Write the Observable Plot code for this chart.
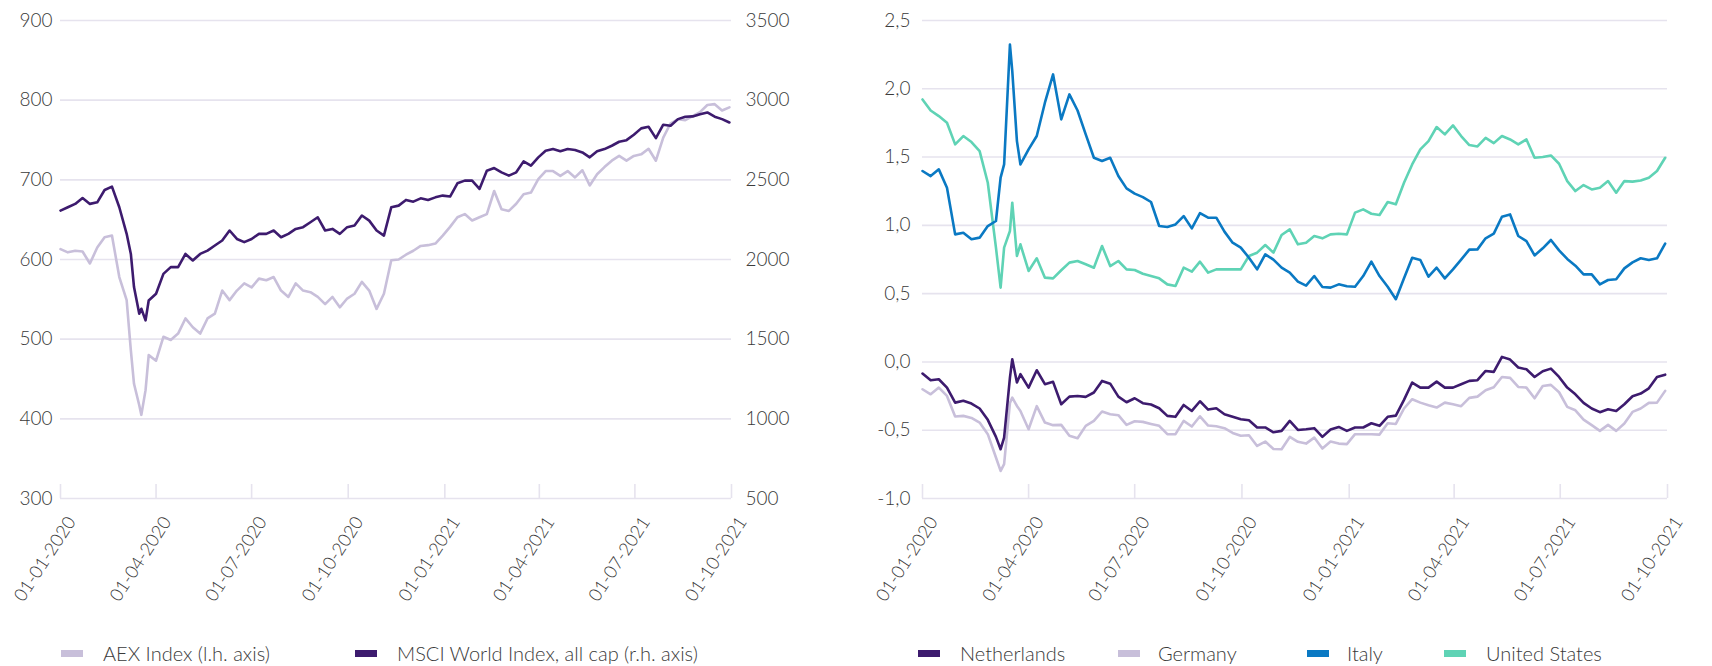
<!DOCTYPE html>
<html>
<head>
<meta charset="utf-8">
<script src="https://cdn.jsdelivr.net/npm/d3@7"></script>
<script src="https://cdn.jsdelivr.net/npm/@observablehq/plot@0.6"></script>
<style>
  html, body { margin: 0; padding: 0; background: #ffffff; }
  #wrap { position: relative; width: 1712px; height: 666px; overflow: hidden; font-family: Lato, "Open Sans", sans-serif; }
  #left { position: absolute; left: 0; top: 0; }
  #right { position: absolute; left: 820px; top: 0; }
  .leg { position: absolute; top: 641px; height: 24px; font-size: 20px; color: #3a3a3a; font-weight: 300; white-space: nowrap; }
  .sw { position: absolute; top: 9px; width: 22px; height: 7px; }
  .lt { position: absolute; top: 0; line-height: 24px; }
</style>
</head>
<body>
<div id="wrap">
  <div id="left"></div>
  <div id="right"></div>
  <div id="legends"></div>
</div>
<script>
// ---------- data ----------
const dates = [
"2020-01-01","2020-01-08","2020-01-15","2020-01-22","2020-01-29","2020-02-05","2020-02-12","2020-02-19","2020-02-26",
"2020-03-04","2020-03-08","2020-03-11","2020-03-16","2020-03-18","2020-03-22","2020-03-25",
"2020-04-01","2020-04-08","2020-04-15","2020-04-22","2020-04-29","2020-05-06","2020-05-13","2020-05-20","2020-05-27",
"2020-06-03","2020-06-10","2020-06-17","2020-06-24","2020-07-01","2020-07-08","2020-07-15","2020-07-22","2020-07-29",
"2020-08-05","2020-08-12","2020-08-19","2020-08-26","2020-09-02","2020-09-09","2020-09-16","2020-09-23","2020-09-30",
"2020-10-07","2020-10-14","2020-10-21","2020-10-28","2020-11-04","2020-11-11","2020-11-18","2020-11-25",
"2020-12-02","2020-12-09","2020-12-16","2020-12-23","2020-12-30",
"2021-01-06","2021-01-13","2021-01-20","2021-01-27","2021-02-03","2021-02-10","2021-02-17","2021-02-24",
"2021-03-03","2021-03-10","2021-03-17","2021-03-24","2021-03-31","2021-04-07","2021-04-14","2021-04-21","2021-04-28",
"2021-05-05","2021-05-12","2021-05-19","2021-05-26","2021-06-02","2021-06-09","2021-06-16","2021-06-23","2021-06-30",
"2021-07-07","2021-07-14","2021-07-21","2021-07-28","2021-08-04","2021-08-11","2021-08-18","2021-08-25",
"2021-09-01","2021-09-08","2021-09-15","2021-09-22","2021-09-29"
];

// AEX Index (left axis)
const aex = [
613,609,611,610,595,615,628,630,578,549,
486,444,417,405,436,480,
473,503,499,507,526,515,507,526,532,561,549,561,570,565,576,574,578,561,553,570,561,559,553,544,553,540,551,557,572,561,538,557,599,
600,606,611,617,618,620,630,641,653,657,649,653,657,686,663,661,670,682,684,701,711,711,705,711,703,712,693,707,716,724,730,724,730,732,739,724,753,771,776,775,780,785,794,795,787,791
];

// MSCI World Index, all cap (right axis)
const msci = [
2307,2328,2349,2386,2349,2359,2436,2457,2328,2161,
2035,1827,1660,1691,1618,1743,
1785,1910,1952,1952,2035,1994,2035,2056,2088,2119,2182,2129,2109,2129,2161,2161,2182,2140,2161,2192,2203,2234,2265,2182,2192,2161,2203,2213,2276,2244,2182,2150,2328,
2338,2374,2363,2384,2374,2390,2401,2395,2478,2495,2495,2443,2557,2574,2547,2526,2547,2616,2589,2641,2683,2693,2679,2693,2687,2672,2641,2679,2693,2714,2739,2749,2783,2823,2833,2762,2846,2839,2881,2896,2898,2912,2923,2896,2881,2860
];

const netherlands = [
-0.085,-0.134,-0.127,-0.188,-0.298,-0.285,-0.305,-0.341,-0.424,-0.549,
-0.639,-0.554,-0.115,0.020,-0.151,-0.090,
-0.188,-0.061,-0.163,-0.146,-0.310,-0.254,-0.249,-0.256,-0.224,-0.139,-0.159,-0.254,-0.295,-0.266,-0.302,-0.312,-0.339,-0.395,-0.402,-0.315,-0.359,-0.288,-0.349,-0.339,-0.383,-0.402,-0.420,-0.427,-0.480,-0.480,-0.515,-0.505,-0.432,
-0.498,-0.493,-0.485,-0.549,-0.495,-0.476,-0.505,-0.480,-0.480,-0.449,-0.468,-0.402,-0.393,-0.278,-0.151,-0.188,-0.188,-0.144,-0.188,-0.188,-0.163,-0.139,-0.134,-0.066,-0.073,0.037,0.017,-0.041,-0.054,-0.110,-0.068,-0.049,-0.110,-0.188,-0.237,-0.300,-0.341,-0.368,-0.346,-0.359,-0.310,-0.251,-0.232,-0.193,-0.110,-0.093
];

const germany = [
-0.200,-0.237,-0.188,-0.249,-0.400,-0.395,-0.410,-0.444,-0.529,-0.700,
-0.798,-0.749,-0.300,-0.261,-0.322,-0.359,
-0.493,-0.324,-0.444,-0.463,-0.461,-0.541,-0.559,-0.468,-0.432,-0.363,-0.383,-0.390,-0.461,-0.434,-0.439,-0.454,-0.468,-0.529,-0.529,-0.432,-0.473,-0.398,-0.466,-0.471,-0.485,-0.520,-0.541,-0.537,-0.615,-0.583,-0.637,-0.639,-0.549,
-0.585,-0.598,-0.554,-0.634,-0.583,-0.598,-0.602,-0.529,-0.529,-0.529,-0.532,-0.449,-0.454,-0.341,-0.273,-0.298,-0.317,-0.334,-0.298,-0.310,-0.324,-0.263,-0.254,-0.207,-0.185,-0.110,-0.117,-0.183,-0.188,-0.266,-0.176,-0.168,-0.222,-0.329,-0.354,-0.422,-0.463,-0.505,-0.461,-0.505,-0.451,-0.366,-0.341,-0.300,-0.298,-0.212
];

const italy = [
1.398,1.361,1.410,1.276,0.934,0.946,0.898,0.910,0.995,1.032,
1.349,1.446,2.324,2.130,1.617,1.446,
1.556,1.654,1.898,2.105,1.776,1.959,1.841,1.666,1.495,1.471,1.495,1.361,1.271,1.232,1.207,1.171,0.995,0.988,1.007,1.068,0.978,1.090,1.056,1.056,0.954,0.873,0.837,0.763,0.678,0.788,0.749,0.690,0.654,
0.588,0.559,0.629,0.549,0.544,0.568,0.554,0.551,0.629,0.734,0.629,0.551,0.459,0.612,0.763,0.746,0.624,0.690,0.612,0.678,0.749,0.822,0.824,0.905,0.939,1.063,1.080,0.922,0.885,0.780,0.832,0.893,0.817,0.754,0.705,0.641,0.641,0.568,0.600,0.605,0.685,0.729,0.759,0.746,0.759,0.866
];

const unitedStates = [
1.922,1.841,1.800,1.751,1.593,1.654,1.610,1.544,1.312,0.837,
0.544,0.837,0.959,1.166,0.776,0.861,
0.666,0.759,0.617,0.612,0.671,0.727,0.739,0.715,0.690,0.849,0.702,0.739,0.678,0.673,0.646,0.629,0.612,0.568,0.556,0.690,0.661,0.734,0.654,0.678,0.678,0.678,0.678,0.776,0.800,0.856,0.800,0.929,0.971,
0.861,0.873,0.922,0.905,0.934,0.939,0.934,1.093,1.117,1.085,1.076,1.171,1.154,1.312,1.446,1.556,1.617,1.720,1.666,1.732,1.654,1.588,1.578,1.641,1.602,1.654,1.629,1.593,1.629,1.495,1.500,1.512,1.451,1.324,1.251,1.295,1.263,1.276,1.324,1.239,1.324,1.320,1.329,1.349,1.398,1.495
];

const xTickLabels = ["2020-01-01","2020-04-01","2020-07-01","2020-10-01","2021-01-01","2021-04-01","2021-07-01","2021-10-01"];
const leftTicks = [300, 400, 500, 600, 700, 800, 900];
const rightAxisTicks = [500, 1000, 1500, 2000, 2500, 3000, 3500];
const yieldTicks = [-1.0, -0.5, 0.0, 0.5, 1.0, 1.5, 2.0, 2.5];

const leftSeries = ["AEX Index (l.h. axis)", "MSCI World Index, all cap (r.h. axis)"];
const rightSeries = ["Netherlands", "Germany", "Italy", "United States"];

// ---------- styles ----------
const C = { purple: "#3d1b6e", lavender: "#c8bfda", blue: "#0a79c3", teal: "#5fd3b5", grid: "#e6e3ee", text: "#3a3a3a" };
const FONT = "Lato, 'Open Sans', sans-serif";

// ---------- build rows ----------
const parse = d3.utcParse("%Y-%m-%d");
const rows = dates.map((d, i) => ({
  date: parse(d), aex: aex[i], msci: msci[i],
  nl: netherlands[i], de: germany[i], it: italy[i], us: unitedStates[i]
}));
const xTicks = xTickLabels.map(parse);
const xDomain = [parse("2020-01-01"), parse("2021-10-01")];
const fmtDate = d3.utcFormat("%d-%m-%Y");

// map right-axis (MSCI) units onto left-axis units
const r2l = v => 300 + (v - 500) / 5;
const l2r = v => 500 + (v - 300) * 5;

const H = 610, MT = 20, MB = 112;
const plotH = H - MT - MB;
const xAxisOpts = { anchor: "bottom", tickSize: 0, tickPadding: 8, tickRotate: -57, label: null, fontSize: 18, dx: 11, dy: 12, tickFormat: fmtDate };

const leftPlot = Plot.plot({
  width: 800, height: H,
  marginLeft: 60, marginRight: 69, marginTop: MT, marginBottom: MB,
  style: { fontFamily: FONT, fontSize: "19px", color: C.text, background: "transparent", fontWeight: 300 },
  x: { type: "utc", domain: xDomain },
  y: { domain: [300, 900] },
  marks: [
    Plot.gridY(leftTicks, { stroke: C.grid, strokeOpacity: 1, strokeWidth: 1.6 }),
    Plot.ruleX(xTicks, { y1: 300, y2: 300 + 600 * 14 / plotH, stroke: C.grid, strokeWidth: 1.6 }),
    Plot.axisY(leftTicks, { anchor: "left", tickSize: 0, tickPadding: 8, label: null, fontSize: 19 }),
    Plot.axisY(rightAxisTicks.map(r2l), { anchor: "right", tickSize: 0, tickPadding: 14, label: null, fontSize: 19, tickFormat: d => String(Math.round(l2r(d))) }),
    Plot.axisX(xTicks, xAxisOpts),
    Plot.lineY(rows, { x: "date", y: "aex", stroke: C.lavender, strokeWidth: 2.6, strokeLinejoin: "round" }),
    Plot.lineY(rows, { x: "date", y: d => r2l(d.msci), stroke: C.purple, strokeWidth: 2.6, strokeLinejoin: "round" })
  ]
});
document.getElementById("left").appendChild(leftPlot);

const fmtYield = d => d3.format(".1f")(d).replace(".", ",").replace("\u2212", "-");

const rightPlot = Plot.plot({
  width: 892, height: H,
  marginLeft: 102, marginRight: 45, marginTop: MT, marginBottom: MB,
  style: { fontFamily: FONT, fontSize: "19px", color: C.text, background: "transparent", fontWeight: 300 },
  x: { type: "utc", domain: xDomain },
  y: { domain: [-1.0, 2.5] },
  marks: [
    Plot.gridY(yieldTicks, { stroke: C.grid, strokeOpacity: 1, strokeWidth: 1.6 }),
    Plot.ruleX(xTicks, { y1: -1.0, y2: -1.0 + 3.5 * 14 / plotH, stroke: C.grid, strokeWidth: 1.6 }),
    Plot.axisY(yieldTicks, { anchor: "left", tickSize: 0, tickPadding: 12, label: null, fontSize: 19, tickFormat: fmtYield }),
    Plot.axisX(xTicks, xAxisOpts),
    Plot.lineY(rows, { x: "date", y: "de", stroke: C.lavender, strokeWidth: 2.6, strokeLinejoin: "round" }),
    Plot.lineY(rows, { x: "date", y: "nl", stroke: C.purple, strokeWidth: 2.6, strokeLinejoin: "round" }),
    Plot.lineY(rows, { x: "date", y: "us", stroke: C.teal, strokeWidth: 2.6, strokeLinejoin: "round" }),
    Plot.lineY(rows, { x: "date", y: "it", stroke: C.blue, strokeWidth: 2.6, strokeLinejoin: "round" })
  ]
});
document.getElementById("right").appendChild(rightPlot);

// ---------- legends ----------
const legendItems = [
  { label: leftSeries[0], color: C.lavender, sx: 61, tx: 103 },
  { label: leftSeries[1], color: C.purple, sx: 355, tx: 397 },
  { label: rightSeries[0], color: C.purple, sx: 918, tx: 960 },
  { label: rightSeries[1], color: C.lavender, sx: 1118, tx: 1158 },
  { label: rightSeries[2], color: C.blue, sx: 1307, tx: 1347 },
  { label: rightSeries[3], color: C.teal, sx: 1444, tx: 1486 }
];
const lg = document.getElementById("legends");
for (const it of legendItems) {
  const box = document.createElement("div");
  box.className = "leg";
  box.style.left = "0px";
  const sw = document.createElement("div");
  sw.className = "sw";
  sw.style.left = it.sx + "px";
  sw.style.background = it.color;
  const t = document.createElement("div");
  t.className = "lt";
  t.style.left = it.tx + "px";
  t.textContent = it.label;
  box.appendChild(sw);
  box.appendChild(t);
  lg.appendChild(box);
}
</script>
</body>
</html>
